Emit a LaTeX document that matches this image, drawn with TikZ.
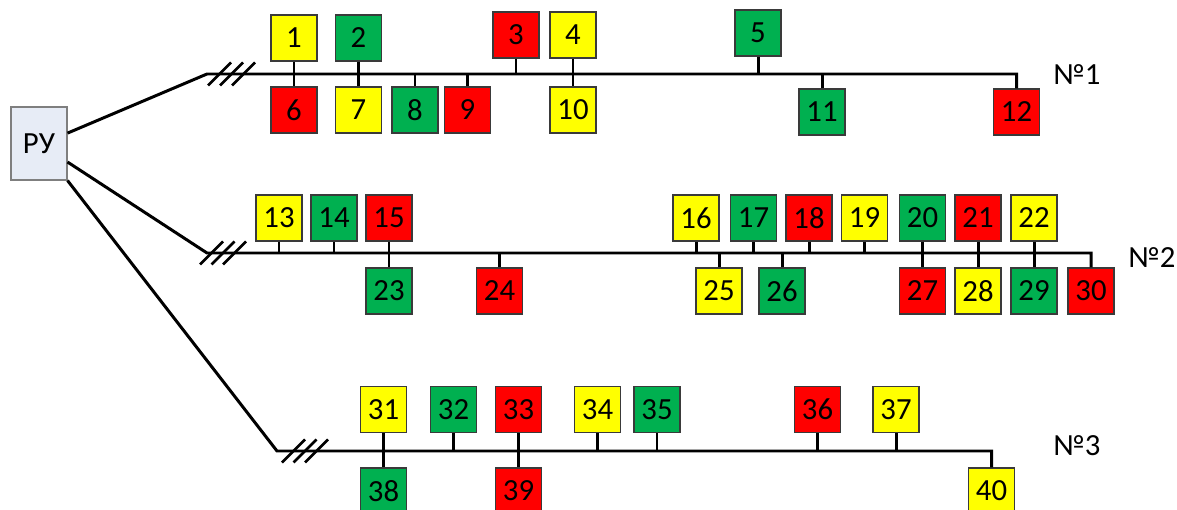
\documentclass[tikz,border=0pt]{standalone}
\usepackage{fontspec}
\setmainfont{Carlito}
\usetikzlibrary{calc}
\definecolor{LoadYellow}{HTML}{FFFF00}
\definecolor{LoadGreen}{HTML}{00B050}
\definecolor{LoadRed}{HTML}{FF0000}
\definecolor{PanelFill}{HTML}{E7ECF6}
\definecolor{PanelEdge}{HTML}{7F7F7F}
\definecolor{BoxEdge}{HTML}{3A3A3A}
\tikzset{
    feeder/diagram/.style={
        x={(0.02cm,0)}, y={(0,-0.02cm)},
        font=\fontsize{17.5}{19}\selectfont,
        line cap=butt,
        line join=miter
    },
    feeder/line/.style={draw=black, line width=1.7pt},
    feeder/tap/.style={draw=black, line width=1.7pt},
    feeder/hash/.style={draw=black, line width=1.5pt},
    feeder/box/.style={
        draw=BoxEdge, line width=0.6pt, inner sep=0pt,
        minimum width=0.92cm, minimum height=0.92cm
    },
    feeder/y/.style={feeder/box, fill=LoadYellow},
    feeder/g/.style={feeder/box, fill=LoadGreen},
    feeder/r/.style={feeder/box, fill=LoadRed},
    feeder/panel/.style={
        draw=PanelEdge, fill=PanelFill, line width=0.6pt, inner sep=0pt,
        minimum width=1.12cm, minimum height=1.46cm
    },
    feeder/label/.style={inner sep=0pt}
}

\begin{document}
\begin{tikzpicture}[feeder/diagram]
    \useasboundingbox (0,0) rectangle (1177,510);
    \clip (0,0) rectangle (1177,510);

    \node[feeder/panel] (ru) at (39,143.5) {РУ};

    % feeder 1
    \coordinate (b1s) at (207,74);
    \coordinate (b1e) at (1016.5,74);
    \node[feeder/y] (n1) at (294,38) {1};
    \node[feeder/g] (n2) at (358.5,38) {2};
    \node[feeder/r] (n3) at (516,35) {3};
    \node[feeder/y] (n4) at (573,35) {4};
    \node[feeder/g] (n5) at (758,33) {5};
    \node[feeder/r] (n6) at (294,110) {6};
    \node[feeder/y] (n7) at (358.5,110) {7};
    \node[feeder/g] (n8) at (415,110) {8};
    \node[feeder/r] (n9) at (467.5,110) {9};
    \node[feeder/y] (n10) at (573,110) {10};
    \node[feeder/g] (n11) at (822,112) {11};
    \node[feeder/r] (n12) at (1016.5,112) {12};
    \node[feeder/label] (no1) at (1077,75) {№1};
    \draw[feeder/line] (ru.20) -- (b1s) -- (b1e) -- (n12);
    \foreach \c in {12.5,24.5,36.5}
        \draw[feeder/hash] ([shift={(\c,0)}]b1s) ++(-11.5,11.5) -- ++(23,-23);
    \draw[feeder/tap] (n1) -- (n6);
    \draw[feeder/tap] (n2) -- (n7);
    \draw[feeder/tap] (n4) -- (n10);
    \draw[feeder/tap] (n3) -- (n3 |- b1s);
    \draw[feeder/tap] (n5) -- (n5 |- b1s);
    \draw[feeder/tap] (n8) -- (n8 |- b1s);
    \draw[feeder/tap] (n9) -- (n9 |- b1s);
    \draw[feeder/tap] (n11) -- (n11 |- b1s);

    % feeder 2
    \coordinate (b2s) at (207,253);
    \coordinate (b2e) at (1091,253);
    \node[feeder/y] (n13) at (279,218) {13};
    \node[feeder/g] (n14) at (334,218) {14};
    \node[feeder/r] (n15) at (389,218) {15};
    \node[feeder/y] (n16) at (696,218) {16};
    \node[feeder/g] (n17) at (753.5,218) {17};
    \node[feeder/r] (n18) at (809,218) {18};
    \node[feeder/y] (n19) at (864.5,218) {19};
    \node[feeder/g] (n20) at (922.5,218) {20};
    \node[feeder/r] (n21) at (978,218) {21};
    \node[feeder/y] (n22) at (1034,218) {22};
    \node[feeder/g] (n23) at (389,291) {23};
    \node[feeder/r] (n24) at (499.5,291) {24};
    \node[feeder/y] (n25) at (719,291) {25};
    \node[feeder/g] (n26) at (782,291) {26};
    \node[feeder/r] (n27) at (922.5,291) {27};
    \node[feeder/y] (n28) at (978,291) {28};
    \node[feeder/g] (n29) at (1034,291) {29};
    \node[feeder/r] (n30) at (1091,291) {30};
    \node[feeder/label] (no2) at (1152,258) {№2};
    \draw[feeder/line] (ru.-33) -- (b2s) -- (b2e) -- (n30);
    \foreach \c in {4.5,16,27.5}
        \draw[feeder/hash] ([shift={(\c,0)}]b2s) ++(-11.5,11.5) -- ++(23,-23);
    \draw[feeder/tap] (n15) -- (n23);
    \draw[feeder/tap] (n20) -- (n27);
    \draw[feeder/tap] (n21) -- (n28);
    \draw[feeder/tap] (n22) -- (n29);
    \draw[feeder/tap] (n13) -- (n13 |- b2s);
    \draw[feeder/tap] (n14) -- (n14 |- b2s);
    \draw[feeder/tap] (n16) -- (n16 |- b2s);
    \draw[feeder/tap] (n17) -- (n17 |- b2s);
    \draw[feeder/tap] (n18) -- (n18 |- b2s);
    \draw[feeder/tap] (n19) -- (n19 |- b2s);
    \draw[feeder/tap] (n24) -- (n24 |- b2s);
    \draw[feeder/tap] (n25) -- (n25 |- b2s);
    \draw[feeder/tap] (n26) -- (n26 |- b2s);

    % feeder 3
    \coordinate (b3s) at (277,451);
    \coordinate (b3e) at (991.5,451);
    \node[feeder/y] (n31) at (383.5,409.5) {31};
    \node[feeder/g] (n32) at (453.5,409.5) {32};
    \node[feeder/r] (n33) at (518.5,409.5) {33};
    \node[feeder/y] (n34) at (597.5,409.5) {34};
    \node[feeder/g] (n35) at (657,409.5) {35};
    \node[feeder/r] (n36) at (817.5,409.5) {36};
    \node[feeder/y] (n37) at (896,409.5) {37};
    \node[feeder/g] (n38) at (383.5,491) {38};
    \node[feeder/r] (n39) at (518.5,491) {39};
    \node[feeder/y] (n40) at (991.5,491) {40};
    \node[feeder/label] (no3) at (1077,446) {№3};
    \draw[feeder/line] (ru.south east) -- (b3s) -- (b3e) -- (n40);
    \foreach \c in {16.5,28,39.5}
        \draw[feeder/hash] ([shift={(\c,0)}]b3s) ++(-11.5,11.5) -- ++(23,-23);
    \draw[feeder/tap] (n31) -- (n38);
    \draw[feeder/tap] (n33) -- (n39);
    \draw[feeder/tap] (n32) -- (n32 |- b3s);
    \draw[feeder/tap] (n34) -- (n34 |- b3s);
    \draw[feeder/tap] (n35) -- (n35 |- b3s);
    \draw[feeder/tap] (n36) -- (n36 |- b3s);
    \draw[feeder/tap] (n37) -- (n37 |- b3s);
\end{tikzpicture}
\end{document}
